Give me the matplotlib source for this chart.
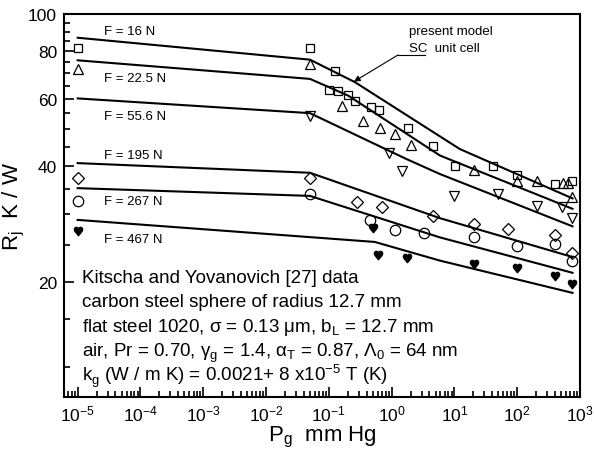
import numpy as np
import matplotlib
matplotlib.use("Agg")
import matplotlib.pyplot as plt
from matplotlib.ticker import FixedLocator, NullFormatter, LogFormatterSciNotation

plt.rcParams['font.family'] = ['Liberation Sans', 'DejaVu Sans']

# model curves (present model, SC unit cell), P_g in mm Hg, R_j in K/W
P_16 = [1e-5, 0.05, 0.26, 12.2, 760]
R_16 = [86.7, 76.0, 66.4, 44.4, 33.0]
P_22 = [1e-5, 0.05, 0.204, 5.9, 760]
R_22 = [75.7, 67.7, 61.2, 42.7, 31.0]
P_55 = [1e-5, 0.05, 1.73, 5.9, 760]
R_55 = [60.2, 55.1, 41.8, 38.2, 27.9]
P_195 = [1e-5, 0.05, 5.9, 760]
R_195 = [40.8, 38.5, 29.3, 23.2]
P_267 = [1e-5, 0.05, 5.9, 760]
R_267 = [35.1, 33.5, 26.1, 21.1]
P_467 = [1e-5, 0.54, 5.9, 760]
R_467 = [29.0, 25.4, 22.7, 18.7]

# Kitscha and Yovanovich data
P_sq = [1e-5, 0.05, 0.125, 0.10, 0.138, 0.204, 0.258, 0.468, 0.62, 1.82, 4.5, 10.2, 40.6, 101, 398, 751]
R_sq = [81.4, 81.4, 71.1, 63.4, 62.9, 61.6, 59.4, 57.2, 56.2, 50.5, 45.1, 40.2, 40.2, 38.1, 36.0, 36.6]
P_tu = [1e-5, 0.05, 0.163, 0.353, 0.65, 1.14, 2.03, 20.7, 100, 204, 528, 649, 760]
R_tu = [71.8, 74.0, 57.6, 52.5, 50.3, 48.7, 45.5, 39.1, 36.7, 36.6, 36.2, 36.2, 33.2]
P_td = [0.05, 0.92, 1.44, 9.8, 49.8, 204, 509, 760]
R_td = [54.1, 43.4, 38.8, 33.4, 33.9, 31.5, 31.3, 29.3]
P_di = [1e-5, 0.05, 0.277, 0.71, 4.5, 20.7, 71.9, 398, 760]
R_di = [37.3, 37.3, 32.2, 31.3, 29.7, 28.3, 27.5, 26.5, 23.8]
P_ci = [1e-5, 0.05, 0.45, 1.13, 3.3, 20.7, 101, 398, 760]
R_ci = [32.5, 33.9, 29.0, 27.3, 26.8, 26.1, 24.8, 25.1, 22.6]
P_he = [1e-5, 0.50, 0.60, 1.77, 20.7, 101, 398, 760]
R_he = [27.1, 27.6, 23.5, 23.0, 22.2, 21.7, 20.7, 19.7]

force_labels = ['F = 16 N', 'F = 22.5 N', 'F = 55.6 N', 'F = 195 N', 'F = 267 N', 'F = 467 N']
label_R = [90.3, 68.1, 54.2, 42.9, 32.5, 25.8]

x_major = [10.0 ** k for k in range(-5, 4)]
x_minor = [m * 10.0 ** k for k in range(-6, 3) for m in range(2, 10)]
y_major = [20, 40, 60, 80, 100]
y_minor = [12, 16, 25, 30, 35, 45, 50, 55, 65, 70, 75, 85, 90, 95]

fig = plt.figure(figsize=(5.94, 4.52), dpi=100)
ax = fig.add_axes([0.1077, 0.1195, 0.8687, 0.8473])

for P, R in [(P_16, R_16), (P_22, R_22), (P_55, R_55),
             (P_195, R_195), (P_267, R_267), (P_467, R_467)]:
    ax.plot(P, R, color='black', lw=1.5)

mk = dict(linestyle='none', color='black', mfc='none', mew=0.9)
ax.plot(P_sq, R_sq, marker='s', ms=6, **mk)
ax.plot(P_tu, R_tu, marker='^', ms=7, **mk)
ax.plot(P_td, R_td, marker='v', ms=7, **mk)
ax.plot(P_di, R_di, marker='D', ms=6, **mk)
ax.plot(P_ci, R_ci, marker='o', ms=7.5, **mk)
ax.plot(P_he, R_he, linestyle='none', marker='$\u2665$', ms=6, color='black')

for lab, r in zip(force_labels, label_R):
    ax.text(2.6e-5, r, lab, fontsize=9.5, va='center', ha='left')

ax.text(1.9, 90.4, 'present model', fontsize=9.5, va='center', ha='left')
ax.text(1.9, 81.4, 'SC  unit cell', fontsize=9.5, va='center', ha='left')
ax.plot([1.27, 3.39], [78.2, 78.2], color='black', lw=0.8)
ax.annotate('', xy=(0.251, 66.6), xytext=(1.27, 78.2),
            arrowprops=dict(arrowstyle='-|>', color='black', lw=0.8,
                            mutation_scale=9, shrinkA=0, shrinkB=0))

info = ['Kitscha and Yovanovich [27] data',
        'carbon steel sphere of radius 12.7 mm',
        'flat steel 1020, \u03c3 = 0.13 \u03bcm, b$_\\mathregular{L}$ = 12.7 mm',
        'air, Pr = 0.70, \u03b3$_\\mathregular{g}$ = 1.4, \u03b1$_\\mathregular{T}$ = 0.87, '
        '\u039b$_\\mathregular{0}$ = 64 nm',
        'k$_\\mathregular{g}$ (W / m K) = 0.0021+ 8 x10$^\\mathregular{-5}$ T (K)']
for i, line in enumerate(info):
    ax.text(0.035, 0.301 - i * 0.0646, line, transform=ax.transAxes,
            fontsize=13.5, va='baseline', ha='left')

ax.set_xscale('log')
ax.set_yscale('log')
ax.set_xlim(10 ** -5.218, 1e3)
ax.set_ylim(10, 100)

ax.xaxis.set_major_locator(FixedLocator(x_major))
ax.xaxis.set_major_formatter(LogFormatterSciNotation())
ax.xaxis.set_minor_locator(FixedLocator(x_minor))
ax.xaxis.set_minor_formatter(NullFormatter())

ax.yaxis.set_major_locator(FixedLocator(y_major))
ax.yaxis.set_minor_locator(FixedLocator(y_minor))
ax.set_yticklabels([str(v) for v in y_major])
ax.yaxis.set_minor_formatter(NullFormatter())

ax.tick_params(which='both', direction='in', top=False, right=False, width=1.2)
ax.tick_params(which='major', length=7, labelsize=12.5, pad=5)
ax.tick_params(which='minor', length=4)
for s in ax.spines.values():
    s.set_linewidth(1.5)

ax.set_xlabel('P$_\\mathregular{g}$  mm Hg', fontsize=16, labelpad=0)
ax.set_ylabel('R$_\\mathregular{j}$  K / W', fontsize=16, labelpad=1)

fig.savefig('out.png', dpi=100)
